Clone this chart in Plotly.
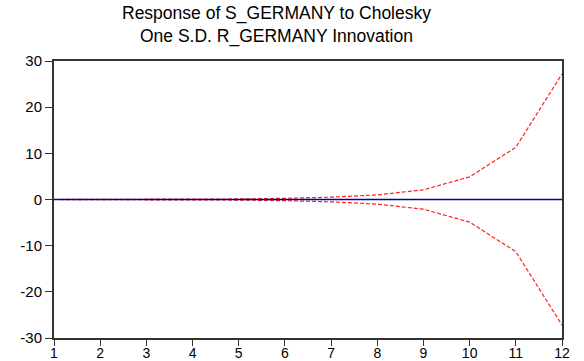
import plotly.graph_objects as go

periods = [1, 2, 3, 4, 5, 6, 7, 8, 9, 10, 11, 12]
response = [0.0, 0.0, 0.0, 0.0, 0.0, 0.0, 0.0, 0.0, 0.0, 0.0, 0.0, 0.0]
upper = [0.0, 0.01, 0.03, 0.06, 0.12, 0.25, 0.5, 1.0, 2.1, 4.9, 11.3, 27.2]
lower = [0.0, -0.01, -0.03, -0.06, -0.12, -0.25, -0.5, -1.0, -2.1, -4.9, -11.3, -27.2]
y_ticks = [-30, -20, -10, 0, 10, 20, 30]
y_tick_labels = ["-30", "-20", "-10", "0", "10", "20", "30"]
title_text = "Response of S_GERMANY to Cholesky<br>One S.D. R_GERMANY Innovation"

fig = go.Figure()
fig.add_trace(go.Scatter(x=periods, y=upper, mode="lines",
                         line=dict(color="#FF2020", width=1.2, dash="4px,2px")))
fig.add_trace(go.Scatter(x=periods, y=lower, mode="lines",
                         line=dict(color="#FF2020", width=1.2, dash="4px,2px")))
fig.add_trace(go.Scatter(x=periods, y=response, mode="lines",
                         line=dict(color="#0000A0", width=1.5)))

fig.update_layout(
    width=584, height=361,
    margin=dict(l=54, r=22, t=61, b=23),
    paper_bgcolor="white", plot_bgcolor="white",
    showlegend=False,
    font=dict(family="Arial, Liberation Sans, sans-serif", color="black", size=15),
)
fig.add_annotation(text=title_text, xref="paper", yref="paper",
                   x=(276 - 54) / 508, y=(338 - 25) / 277,
                   xanchor="center", yanchor="middle", showarrow=False,
                   font=dict(size=17.5, family="Arial, Liberation Sans, sans-serif", color="black"))

fig.update_xaxes(range=[1, 12], tickmode="array", tickvals=periods,
                 ticks="outside", ticklen=6, tickwidth=1, tickcolor="#333",
                 showline=True, linecolor="#333", linewidth=2, mirror=True,
                 showgrid=False, zeroline=False, tickfont=dict(size=14),
                 ticklabelstandoff=-5, automargin=False)
fig.update_yaxes(range=[-30, 30], tickmode="array", tickvals=y_ticks, ticktext=y_tick_labels,
                 ticks="outside", ticklen=7, tickwidth=1, tickcolor="#333",
                 showline=True, linecolor="#333", linewidth=2, mirror=True,
                 showgrid=False, zeroline=True, zerolinecolor="black", zerolinewidth=1,
                 tickfont=dict(size=15), automargin=False)

fig.write_html("out.html")
